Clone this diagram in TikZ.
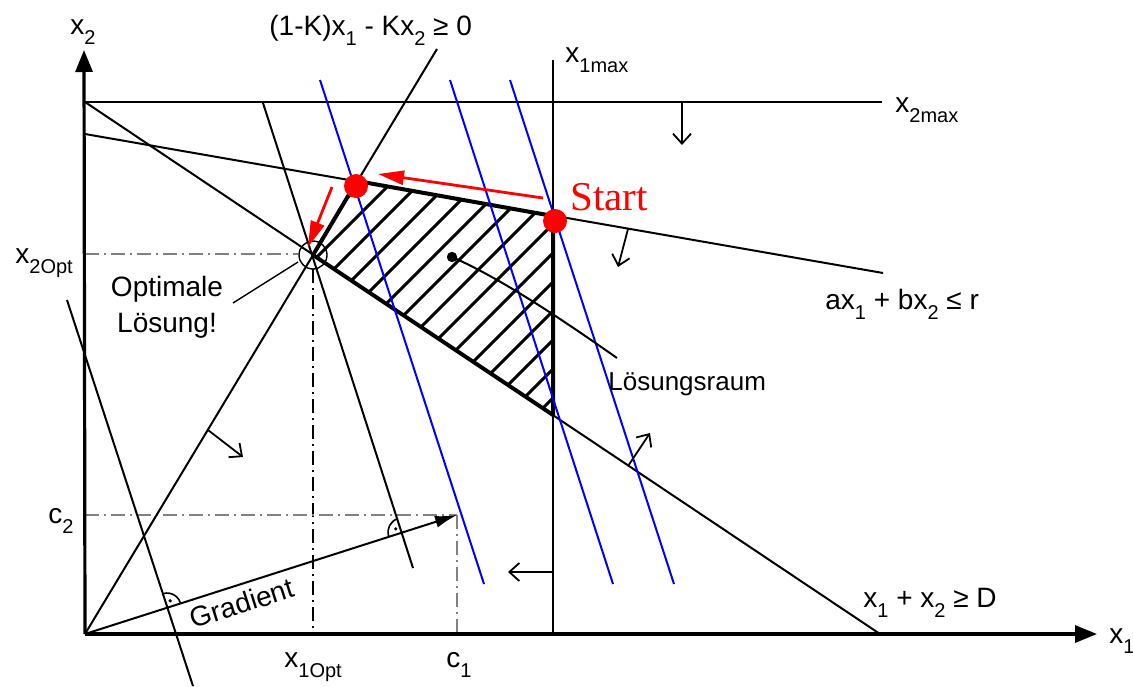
\documentclass[tikz,border=0pt]{standalone}
\usepackage{fontspec}
\setmainfont{Liberation Sans}
\newfontfamily\startfont{Liberation Serif}
\usetikzlibrary{arrows.meta,calc}
\newcommand{\sbs}[1]{\raisebox{-5pt}{\fontsize{10}{10}\selectfont #1}}
\begin{document}
\begin{tikzpicture}[x=0.5pt,y=-0.5pt,
  line join=round,
  thinline/.style={line width=1pt},
  edgeline/.style={line width=2pt},
  axisline/.style={line width=1.6pt,-{Triangle[length=11pt,width=8.5pt]}},
  isoline/.style={blue,line width=1pt},
  dashdot/.style={line width=0.9pt,dash pattern=on 7pt off 2.5pt on 1pt off 2.5pt},
  hintarrow/.style={line width=0.9pt,-{Straight Barb[length=5pt,width=9pt]}},
  lbl/.style={font=\fontsize{14}{16}\selectfont,inner sep=0pt},
  redarrow/.style={red,line width=1.4pt,-{Triangle[length=13pt,width=7pt]}},
  reddot/.style={circle,fill=red,minimum size=12pt,inner sep=0pt},
  hatchline/.style={line width=1.5pt}
]
\path[use as bounding box] (0,0) rectangle (1133,686);
\fill[white] (0,0) rectangle (1133,686);

% key points
\coordinate (O) at (85,634);
\coordinate (Xtip) at (1097,634);
\coordinate (Ytip) at (84,50);
\coordinate (TL) at (85,102);
\coordinate (X2R) at (882,102);
\coordinate (X1T) at (553,60);
\coordinate (X1B) at (553,634);
\coordinate (RL) at (85,134);
\coordinate (RR) at (883,273);
\coordinate (DR) at (880,634);
\coordinate (KT) at (437,49);
\coordinate (Opt) at (313,255);
\coordinate (A) at (357,181);
\coordinate (S) at (553,216);
\coordinate (B) at (553,415);
\coordinate (P1a) at (263,103);
\coordinate (P1b) at (413,568);
\coordinate (P2a) at (67,300);
\coordinate (P2b) at (193,686);
\coordinate (Gtip) at (457,515);
\coordinate (M1) at (402,532);
\coordinate (M2) at (167,607);

% hatching of the feasible region
\begin{scope}
  \clip (Opt) -- (A) -- (S) -- (B) -- cycle;
  \foreach \k in {-9,...,9} \draw[hatchline] ({356+\k*29},450) -- ++(330,-330);
\end{scope}

% dash-dot helper lines
\draw[dashdot,gray] (85,254) -- (298,254);
\draw[dashdot] (313,269) -- (313,634);
\draw[dashdot,gray] (85,515) -- (457,515);
\draw[dashdot,gray] (457,515) -- (457,634);

% constraint lines
\draw[thinline] (TL) -- (X2R);
\draw[thinline] (X1T) -- (X1B);
\draw[thinline] (RL) -- (RR);
\draw[thinline] (TL) -- (DR);
\draw[thinline] (O) -- (KT);
\draw[thinline] (P1a) -- (P1b);
\draw[thinline] (P2a) -- (P2b);

% feasible region border
\draw[edgeline] (Opt) -- (A) -- (S) -- (B) -- cycle;

% iso-profit lines
\coordinate (G1a) at (320,80); \coordinate (G1b) at (484,584);
\coordinate (G2a) at (450,80); \coordinate (G2b) at (613,584);
\coordinate (G3a) at (510,80); \coordinate (G3b) at (674,584);
\draw[isoline] (G1a) -- (G1b);
\draw[isoline] (G2a) -- (G2b);
\draw[isoline] (G3a) -- (G3b);

% axes
\draw[axisline] (O) -- (Xtip);
\draw[axisline] (O) -- (Ytip);

% direction hints
\coordinate (H1a) at (682,102); \coordinate (H1b) at (682,145);
\coordinate (H2a) at (628,229); \coordinate (H2b) at (618,267);
\coordinate (H3a) at (208,430); \coordinate (H3b) at (243,457);
\coordinate (H4a) at (628,466); \coordinate (H4b) at (650,433);
\coordinate (H5a) at (553,572); \coordinate (H5b) at (508,572);
\draw[hintarrow] (H1a) -- (H1b);
\draw[hintarrow] (H2a) -- (H2b);
\draw[hintarrow] (H3a) -- (H3b);
\draw[hintarrow] (H4a) -- (H4b);
\draw[hintarrow] (H5a) -- (H5b);

% gradient
\draw[thinline,-{Latex[length=11pt,width=6pt]}] (O) -- (Gtip);

% right-angle marks
\draw[line width=0.8pt] ($(M1)+(108:7pt)$) arc[start angle=108, end angle=197.7, radius=7pt];
\fill ($(M1)+(153:3.5pt)$) circle (0.9pt);
\draw[line width=0.8pt] ($(M2)+(17.7:7pt)$) arc[start angle=17.7, end angle=108, radius=7pt];
\fill ($(M2)+(63:3.5pt)$) circle (0.9pt);

% optimum circle
\node[circle,draw,line width=0.7pt,minimum size=14pt,inner sep=0pt] (optc) at (Opt) {};

% solution space marker
\fill (452,257) circle (2.6pt);
\coordinate (Ldot) at (452,257);
\coordinate (Lend) at (617,358);
\draw[thinline] (Ldot) .. controls (500,278) and (560,318) .. (Lend);

% Optimale Loesung leader
\coordinate (OLa) at (233,303);
\coordinate (OLb) at (298,262);
\draw[line width=0.7pt] (OLa) -- (OLb);

% red path
\coordinate (R1a) at (543,198); \coordinate (R1b) at (378,174);
\coordinate (R2a) at (332,187); \coordinate (R2b) at (308,247);
\draw[redarrow] (R1a) -- (R1b);
\draw[redarrow] (R2a) -- (R2b);
\node[reddot] (dotA) at (356,186) {};
\node[reddot] (dotS) at (555,221) {};
\node[anchor=base west,inner sep=0pt,text=red,font=\startfont\fontsize{20.5}{24}\selectfont] (start) at (570,210) {Start};

% labels
\node[lbl,anchor=base west] (lx2) at (70,34) {x\sbs{2}};
\node[lbl,anchor=base west] (lx1) at (1109,643) {x\sbs{1}};
\node[lbl,anchor=base west] (lk) at (269,35) {(1-K)x\sbs{1} - Kx\sbs{2} ≥ 0};
\node[lbl,anchor=base west] (lx1max) at (565,62) {x\sbs{1max}};
\node[lbl,anchor=base west] (lx2max) at (895,112) {x\sbs{2max}};
\node[lbl,anchor=base west] (lr) at (825,309) {ax\sbs{1} + bx\sbs{2} ≤ r};
\node[lbl,anchor=base west] (ld) at (863,607) {x\sbs{1} + x\sbs{2} ≥ D};
\node[lbl,anchor=base west] (lx2opt) at (15,263) {x\sbs{2Opt}};
\node[lbl,anchor=base west] (lc2) at (48,523) {c\sbs{2}};
\node[lbl,anchor=base west] (lx1opt) at (284,667) {x\sbs{1Opt}};
\node[lbl,anchor=base west] (lc1) at (446,667) {c\sbs{1}};
\node[lbl,anchor=base west,font=\fontsize{13}{15}\selectfont] (lraum) at (608,390) {Lösungsraum};
\node[lbl,anchor=base] (lopt1) at (167,296) {Optimale};
\node[lbl,anchor=base] (lopt2) at (167,332) {Lösung!};
\node[lbl,rotate=17.7] (lgrad) at (242,603) {Gradient};
\end{tikzpicture}
\end{document}
